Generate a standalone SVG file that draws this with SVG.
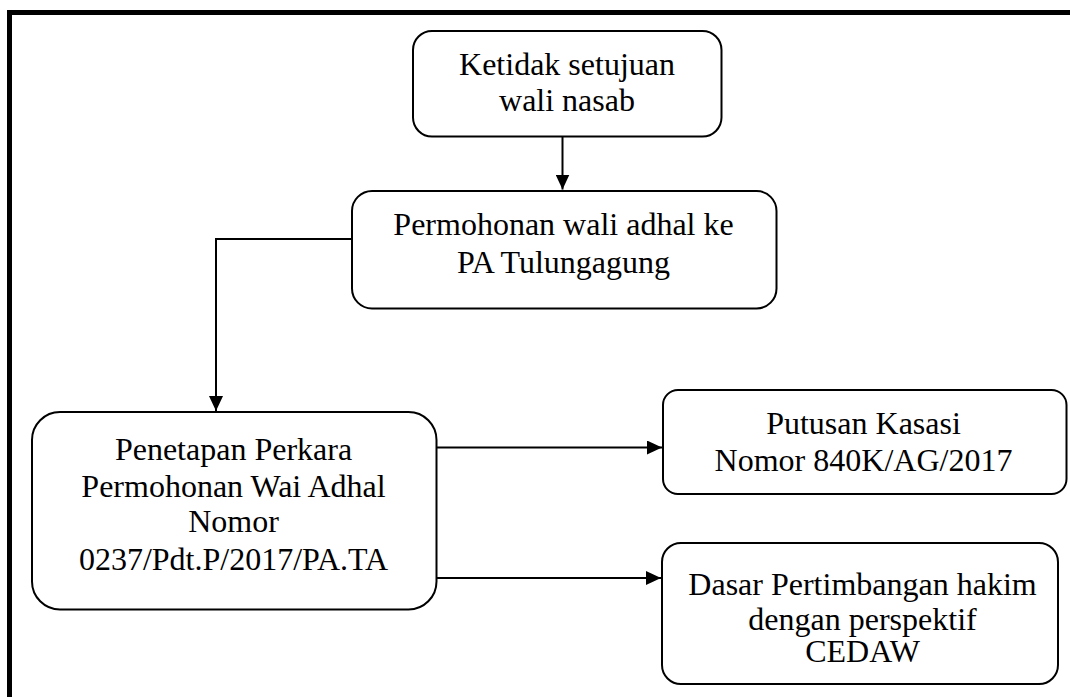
<svg xmlns="http://www.w3.org/2000/svg" width="1070" height="697" viewBox="0 0 1070 697">
<style>
.box{fill:#fff;stroke:#000;stroke-width:2}
.t{font-family:"Liberation Serif","Times New Roman",serif;font-size:32px;fill:#000;text-anchor:middle}
.c{fill:none;stroke:#000;stroke-width:2}
</style>
<defs>
<marker id="ah" markerWidth="15" markerHeight="14" refX="15" refY="7" orient="auto" markerUnits="userSpaceOnUse">
<path d="M0,0 L15,7 L0,14 Z" fill="#000"/>
</marker>
</defs>
<rect x="0" y="0" width="1070" height="697" fill="#fff"/>
<rect x="9.5" y="12.5" width="1080" height="700" fill="none" stroke="#000" stroke-width="5"/>
<g id="connectors">
<path class="c" d="M562.5,137 V189.5" marker-end="url(#ah)"/>
<path class="c" d="M352,239 H216 V411" marker-end="url(#ah)"/>
<path class="c" d="M436.5,447.5 H662" marker-end="url(#ah)"/>
<path class="c" d="M436.5,578 H661" marker-end="url(#ah)"/>
</g>
<g id="n1">
<rect class="box" x="413" y="31" width="308.5" height="105.5" rx="19"/>
<text class="t" x="567" y="75">Ketidak setujuan</text>
<text class="t" x="567" y="110.5">wali nasab</text>
</g>
<g id="n2">
<rect class="box" x="352" y="191" width="424.5" height="117.5" rx="20"/>
<text class="t" x="563.5" y="235">Permohonan wali adhal ke</text>
<text class="t" x="563.5" y="273">PA Tulungagung</text>
</g>
<g id="n3">
<rect class="box" x="32" y="412" width="404.5" height="197.5" rx="28"/>
<text class="t" x="233.5" y="460">Penetapan Perkara</text>
<text class="t" x="233.5" y="496.5">Permohonan Wai Adhal</text>
<text class="t" x="233.5" y="532">Nomor</text>
<text class="t" x="233.5" y="570">0237/Pdt.P/2017/PA.TA</text>
</g>
<g id="n4">
<rect class="box" x="663" y="390" width="403.5" height="104" rx="15"/>
<text class="t" x="863.5" y="433.5">Putusan Kasasi</text>
<text class="t" x="863.5" y="471">Nomor 840K/AG/2017</text>
</g>
<g id="n5">
<rect class="box" x="662" y="543" width="396" height="141" rx="19"/>
<text class="t" x="862.5" y="595">Dasar Pertimbangan hakim</text>
<text class="t" x="862.5" y="629.5">dengan perspektif</text>
<text class="t" x="862.5" y="662">CEDAW</text>
</g>
</svg>
